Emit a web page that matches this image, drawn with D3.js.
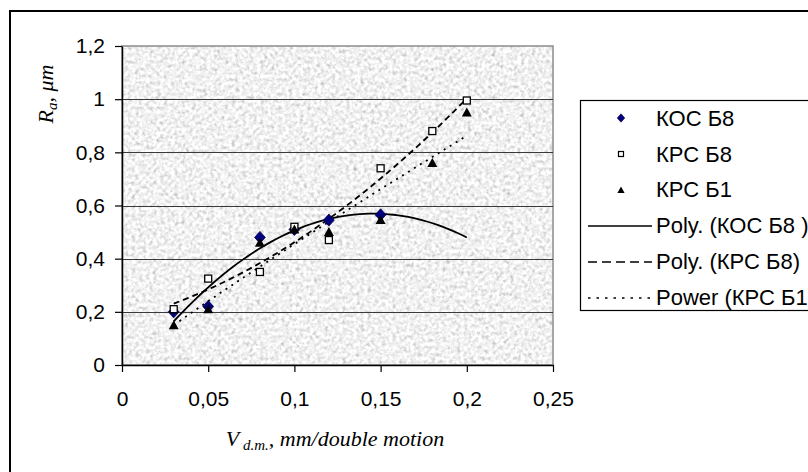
<!DOCTYPE html>
<html><head><meta charset="utf-8">
<script src="https://cdn.jsdelivr.net/npm/d3@7"></script>
<style>html,body{margin:0;padding:0;background:#fff;overflow:hidden}</style>
</head><body>
<svg id="c" width="808" height="472"></svg>
<script>
// ---- data ----
const xKOC_B8 = [0.03, 0.05, 0.08, 0.10, 0.12, 0.15];
const yKOC_B8 = [0.20, 0.22, 0.48, 0.51, 0.545, 0.565];
const xKPC_B8 = [0.03, 0.05, 0.08, 0.10, 0.12, 0.15, 0.18, 0.20];
const yKPC_B8 = [0.21, 0.325, 0.35, 0.52, 0.47, 0.74, 0.88, 0.995];
const xKPC_B1 = [0.03, 0.05, 0.08, 0.10, 0.12, 0.15, 0.18, 0.20];
const yKPC_B1 = [0.15, 0.21, 0.46, 0.51, 0.50, 0.545, 0.76, 0.95];
const trendFrom = [0.03, 0.03, 0.03];
const trendTo = [0.20, 0.20, 0.20];
const xTickVals = [0, 0.05, 0.10, 0.15, 0.20, 0.25];
const xTickLabels = ["0", "0,05", "0,1", "0,15", "0,2", "0,25"];
const yTickVals = [0, 0.2, 0.4, 0.6, 0.8, 1.0, 1.2];
const yTickLabels = ["0", "0,2", "0,4", "0,6", "0,8", "1", "1,2"];
const legendLabels = ["КОС Б8", "КРС Б8", "КРС Б1", "Poly. (КОС Б8 )", "Poly. (КРС Б8)", "Power (КРС Б1)"];

// ---- fits ----
function polyFit2(xs, ys) {
  let S = [0,0,0,0,0], T = [0,0,0];
  xs.forEach((x,i)=>{ for(let k=0;k<5;k++) S[k]+=Math.pow(x,k); for(let k=0;k<3;k++) T[k]+=ys[i]*Math.pow(x,k); });
  const M = [[S[0],S[1],S[2],T[0]],[S[1],S[2],S[3],T[1]],[S[2],S[3],S[4],T[2]]];
  for (let i=0;i<3;i++){ for(let j=i+1;j<3;j++){ const f=M[j][i]/M[i][i]; for(let k=i;k<4;k++) M[j][k]-=f*M[i][k]; } }
  const r=[0,0,0];
  for (let i=2;i>=0;i--){ let s=M[i][3]; for(let k=i+1;k<3;k++) s-=M[i][k]*r[k]; r[i]=s/M[i][i]; }
  return x => r[0]+r[1]*x+r[2]*x*x;
}
function powerFit(xs, ys) {
  const lx = xs.map(Math.log), ly = ys.map(Math.log);
  const mx = d3.mean(lx), my = d3.mean(ly);
  const b = d3.sum(lx.map((v,i)=>(v-mx)*(ly[i]-my))) / d3.sum(lx.map(v=>(v-mx)*(v-mx)));
  const a = Math.exp(my - b*mx);
  return x => a*Math.pow(x,b);
}

const svg = d3.select("#c");
const x = d3.scaleLinear().domain([0,0.25]).range([122,553]);
const y = d3.scaleLinear().domain([0,1.2]).range([365,46]);

// outer border
svg.append("rect").attr("x",10).attr("y",11).attr("width",830).attr("height",500)
  .attr("fill","#fff").attr("stroke","#000").attr("stroke-width",2);

// texture
const defs = svg.append("defs");
const f = defs.append("filter").attr("id","tex").attr("x",0).attr("y",0).attr("width",1).attr("height",1);
f.append("feTurbulence").attr("type","fractalNoise").attr("baseFrequency","0.28").attr("numOctaves",2).attr("seed",7).attr("result","n");
f.append("feColorMatrix").attr("in","n").attr("type","matrix")
  .attr("values","0.5 0.5 0.5 0 0.13  0.5 0.5 0.5 0 0.13  0.5 0.5 0.5 0 0.13  0 0 0 0 1");

const px0 = x(0), py0 = y(1.2), pw = x(0.25)-x(0), ph = y(0)-y(1.2);
svg.append("rect").attr("x",px0).attr("y",py0).attr("width",pw).attr("height",ph)
  .attr("fill","#e6e6e6").attr("filter","url(#tex)");
svg.append("rect").attr("x",px0).attr("y",py0).attr("width",pw).attr("height",ph)
  .attr("fill","none").attr("stroke","#8c8c8c").attr("stroke-width",1.5);

// gridlines
svg.append("g").selectAll("line").data(yTickVals.filter(v=>v>0 && v<1.2)).join("line")
  .attr("x1",x(0)).attr("x2",x(0.25)).attr("y1",d=>Math.round(y(d))+0.5).attr("y2",d=>Math.round(y(d))+0.5)
  .attr("stroke","#3a3a3a").attr("stroke-width",1.2);

// axes
const fmtX = d => xTickLabels[xTickVals.indexOf(d)];
const fmtY = d => yTickLabels[yTickVals.indexOf(d)];
const gx = svg.append("g").attr("transform",`translate(0,${y(0)})`)
  .call(d3.axisBottom(x).tickValues(xTickVals).tickFormat(fmtX).tickSize(7).tickSizeOuter(0).tickPadding(19));
const gy = svg.append("g").attr("transform",`translate(${x(0)},0)`)
  .call(d3.axisLeft(y).tickValues(yTickVals).tickFormat(fmtY).tickSize(7).tickSizeOuter(0).tickPadding(10));
[gx,gy].forEach(g=>{
  g.selectAll("path").attr("stroke","#000").attr("stroke-width",1.5);
  g.selectAll("line").attr("stroke","#000").attr("stroke-width",1.2);
  g.selectAll("text").attr("font-family","Arial, 'Liberation Sans', sans-serif").attr("font-size",21).attr("fill","#000");
});

// trendlines
const fits = [polyFit2(xKOC_B8,yKOC_B8), polyFit2(xKPC_B8,yKPC_B8), powerFit(xKPC_B1,yKPC_B1)];
const dashes = [null, "6,4", "2,5"];
const line = d3.line().x(d=>x(d[0])).y(d=>y(d[1]));
fits.forEach((fn,i)=>{
  const pts = d3.range(0,61).map(k=>{ const xv = trendFrom[i] + (trendTo[i]-trendFrom[i])*k/60; return [xv, fn(xv)]; });
  svg.append("path").attr("d",line(pts)).attr("fill","none").attr("stroke","#000").attr("stroke-width",1.8)
    .attr("stroke-dasharray",dashes[i]);
});

// markers
const diamond = (cx,cy,r)=>`M${cx},${cy-r}L${cx+r*0.9},${cy}L${cx},${cy+r}L${cx-r*0.9},${cy}Z`;
const tri = (cx,cy,r)=>`M${cx},${cy-r}L${cx+r},${cy+r*0.8}L${cx-r},${cy+r*0.8}Z`;
svg.append("g").selectAll("path").data(xKOC_B8.map((v,i)=>[v,yKOC_B8[i]])).join("path")
  .attr("d",d=>diamond(x(d[0]),y(d[1]),6)).attr("fill","#000080").attr("stroke","#000040").attr("stroke-width",0.8);
svg.append("g").selectAll("rect").data(xKPC_B8.map((v,i)=>[v,yKPC_B8[i]])).join("rect")
  .attr("x",d=>x(d[0])-3.5).attr("y",d=>y(d[1])-3.5).attr("width",7).attr("height",7)
  .attr("fill","#fff").attr("stroke","#000").attr("stroke-width",1.3);
svg.append("g").selectAll("path").data(xKPC_B1.map((v,i)=>[v,yKPC_B1[i]])).join("path")
  .attr("d",d=>tri(x(d[0]),y(d[1]),5)).attr("fill","#000");

// legend
const lg = svg.append("g");
lg.append("rect").attr("x",580.5).attr("y",100.5).attr("width",260).attr("height",210)
  .attr("fill","#fff").attr("stroke","#000").attr("stroke-width",1.2);
const rowY = [118, 154, 189, 225, 261, 297];
legendLabels.forEach((t,i)=>{
  lg.append("text").attr("x",656).attr("y",rowY[i]).attr("dy","0.36em").text(t)
    .attr("font-family","Arial, 'Liberation Sans', sans-serif").attr("font-size",22).attr("fill","#000");
});
lg.append("path").attr("d",diamond(621,rowY[0],4.2)).attr("fill","#000080").attr("stroke","#000040").attr("stroke-width",0.6);
lg.append("rect").attr("x",618.5).attr("y",rowY[1]-2.5).attr("width",5).attr("height",5).attr("fill","#fff").attr("stroke","#000").attr("stroke-width",1.2);
lg.append("path").attr("d",tri(621,rowY[2]+1,3.6)).attr("fill","#000");
[3,4,5].forEach((r,k)=>{
  lg.append("line").attr("x1",588).attr("x2",652).attr("y1",rowY[r]+1).attr("y2",rowY[r]+1)
    .attr("stroke","#000").attr("stroke-width",1.6).attr("stroke-dasharray",k===0?null:(k===1?"9,5":"2.5,6"));
});

// axis titles
const xt = svg.append("text").attr("x",335).attr("y",446).attr("text-anchor","middle")
  .attr("font-family","'Times New Roman', 'Liberation Serif', serif").attr("font-style","italic").attr("font-size",22).attr("fill","#000");
xt.append("tspan").text("V");
xt.append("tspan").attr("font-size",15).attr("dy",4).text(" d.m.");
xt.append("tspan").attr("dy",-4).text(", mm/double motion");

const yt = svg.append("text").attr("transform","translate(53,94) rotate(-90)").attr("text-anchor","middle")
  .attr("font-family","'Times New Roman', 'Liberation Serif', serif").attr("font-style","italic").attr("font-size",22).attr("fill","#000");
yt.append("tspan").text("R");
yt.append("tspan").attr("font-size",15).attr("dy",4).text("a");
yt.append("tspan").attr("dy",-4).text(", μm");
</script>
</body></html>
